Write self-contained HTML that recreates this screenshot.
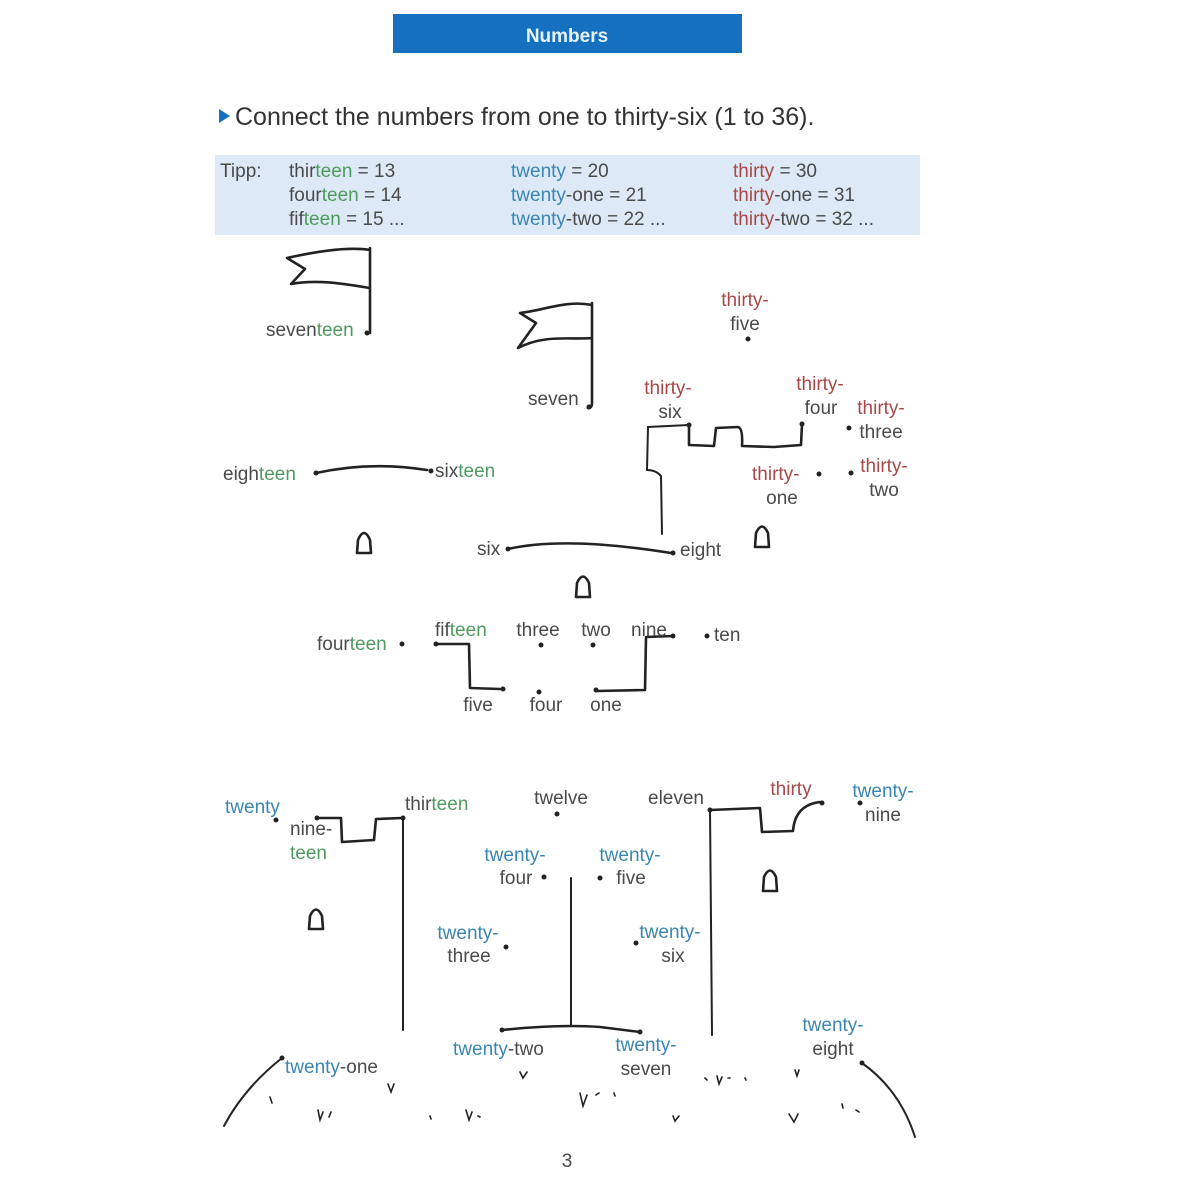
<!DOCTYPE html>
<html><head><meta charset="utf-8"><style>
html,body{margin:0;padding:0;background:#fff;}
svg{display:block;}
text{font-family:"Liberation Sans Narrow","Liberation Sans",sans-serif;font-size:19px;fill:#4a4a4a;}
.gr{fill:#4f9a60;} .b{fill:#3a86b0;} .r{fill:#a84848;}
.ln{fill:none;stroke:#222;stroke-width:2.6;stroke-linecap:round;stroke-linejoin:round;}
.th{fill:none;stroke:#222;stroke-width:2;stroke-linecap:round;}
</style></head><body>
<svg width="1200" height="1200" viewBox="0 0 1200 1200" xmlns="http://www.w3.org/2000/svg">
<rect x="393" y="14" width="349" height="39" fill="#1570c0"/>
<text x="567" y="42" text-anchor="middle" style="fill:#e8f2fb;font-size:19px;font-weight:bold;font-family:'Liberation Sans',sans-serif">Numbers</text>
<polygon points="219,109 219,123 230,116" fill="#1570c0"/>
<text x="235" y="125" style="font-size:25px;fill:#333;font-family:'Liberation Sans',sans-serif">Connect the numbers from one to thirty-six (1 to 36).</text>
<rect x="215" y="155" width="705" height="80" fill="#dde9f7"/>
<g style="font-size:19px">
<text x="220" y="177">Tipp:</text>
<text x="289" y="177">thir<tspan class="gr">teen</tspan> = 13</text>
<text x="289" y="201">four<tspan class="gr">teen</tspan> = 14</text>
<text x="289" y="225">fif<tspan class="gr">teen</tspan> = 15 ...</text>
<text x="511" y="177"><tspan class="b">twenty</tspan> = 20</text>
<text x="511" y="201"><tspan class="b">twenty</tspan>-one = 21</text>
<text x="511" y="225"><tspan class="b">twenty</tspan>-two = 22 ...</text>
<text x="733" y="177"><tspan class="r">thirty</tspan> = 30</text>
<text x="733" y="201"><tspan class="r">thirty</tspan>-one = 31</text>
<text x="733" y="225"><tspan class="r">thirty</tspan>-two = 32 ...</text>
</g>

<!-- flags -->
<path class="ln" d="M370,248 L370,333 M370,250 C345,246 305,254 287,258 L305,269 L291,284 C318,279 345,284 370,288"/>
<path class="ln" d="M592,303 L592,403 Q592,408 588,408 M592,305 C567,300 545,310 520,313 L536,323 L518,348 C545,334 570,340 592,338"/>

<!-- castle top right -->
<path class="ln" d="M689,425 L689,445 L714,446 L716,428 L738,427 Q743,428 742,446 L774,447 L801,445 L802,424"/>
<path class="th" d="M689,425 L648,427 L647,470 Q656,470 661,476 L662,534"/>
<path class="ln" d="M316,473 Q370,461 427,470"/>
<path class="ln" d="M508,549 Q565,536 671,553"/>
<path class="ln" d="M436,644 L469,644 L470,688 L500,689"/>
<path class="ln" d="M673,636 L646,637 L645,690 L597,691"/>

<!-- arches -->
<g class="ln">
<path d="M357,553 L358,540 Q364,526 370,540 L371,553 Z"/>
<path d="M576,597 L577,583 Q583,570 589,583 L590,597 Z"/>
<path d="M755,547 L756,533 Q762,520 768,533 L769,547 Z"/>
<path d="M763,891 L764,877 Q770,864 776,877 L777,891 Z"/>
<path d="M309,929 L310,916 Q316,903 322,916 L323,929 Z"/>
</g>

<!-- dots -->
<g fill="#222">
<circle cx="367" cy="333" r="2.5"/><circle cx="589" cy="407" r="2.5"/><circle cx="748" cy="339" r="2.5"/>
<circle cx="689" cy="425" r="2.5"/><circle cx="802" cy="424" r="2.5"/><circle cx="849" cy="428" r="2.5"/>
<circle cx="819" cy="474" r="2.5"/><circle cx="851" cy="473" r="2.5"/>
<circle cx="316" cy="473" r="2.5"/><circle cx="431" cy="471" r="2.5"/>
<circle cx="508" cy="549" r="2.5"/><circle cx="673" cy="553" r="2.5"/>
<circle cx="402" cy="644" r="2.5"/><circle cx="436" cy="644" r="2.5"/><circle cx="503" cy="689" r="2.5"/>
<circle cx="541" cy="645" r="2.5"/><circle cx="593" cy="645" r="2.5"/><circle cx="673" cy="636" r="2.5"/>
<circle cx="596" cy="690" r="2.5"/><circle cx="539" cy="692" r="2.5"/><circle cx="707" cy="636" r="2.5"/>
<circle cx="276" cy="820" r="2.5"/><circle cx="317" cy="818" r="2.5"/><circle cx="403" cy="818" r="2.5"/>
<circle cx="557" cy="814" r="2.5"/><circle cx="710" cy="810" r="2.5"/><circle cx="822" cy="803" r="2.5"/>
<circle cx="860" cy="803" r="2.5"/><circle cx="544" cy="877" r="2.5"/><circle cx="600" cy="878" r="2.5"/>
<circle cx="506" cy="947" r="2.5"/><circle cx="636" cy="943" r="2.5"/>
<circle cx="502" cy="1030" r="2.5"/><circle cx="640" cy="1032" r="2.5"/>
<circle cx="862" cy="1063" r="2.5"/><circle cx="282" cy="1058" r="2.5"/>
</g>

<!-- top labels -->
<text x="266" y="336">seven<tspan class="gr">teen</tspan></text>
<text x="528" y="405">seven</text>
<text x="745" y="306" text-anchor="middle" class="r">thirty-</text>
<text x="745" y="330" text-anchor="middle">five</text>
<text x="668" y="394" text-anchor="middle" class="r">thirty-</text>
<text x="670" y="418" text-anchor="middle">six</text>
<text x="820" y="390" text-anchor="middle" class="r">thirty-</text>
<text x="821" y="414" text-anchor="middle">four</text>
<text x="881" y="414" text-anchor="middle" class="r">thirty-</text>
<text x="881" y="438" text-anchor="middle">three</text>
<text x="752" y="480" class="r">thirty-</text>
<text x="782" y="504" text-anchor="middle">one</text>
<text x="884" y="472" text-anchor="middle" class="r">thirty-</text>
<text x="884" y="496" text-anchor="middle">two</text>
<text x="223" y="480">eigh<tspan class="gr">teen</tspan></text>
<text x="435" y="477">six<tspan class="gr">teen</tspan></text>
<text x="477" y="555">six</text>
<text x="680" y="556">eight</text>
<text x="317" y="650">four<tspan class="gr">teen</tspan></text>
<text x="435" y="636">fif<tspan class="gr">teen</tspan></text>
<text x="538" y="636" text-anchor="middle">three</text>
<text x="596" y="636" text-anchor="middle">two</text>
<text x="649" y="636" text-anchor="middle">nine</text>
<text x="714" y="641">ten</text>
<text x="478" y="711" text-anchor="middle">five</text>
<text x="546" y="711" text-anchor="middle">four</text>
<text x="606" y="711" text-anchor="middle">one</text>

<!-- bottom lines -->
<path class="ln" d="M317,818 L341,818 L342,842 L374,840 L376,819 L402,818"/>
<path class="th" d="M403,818 L403,1030"/>
<path class="ln" d="M710,810 L760,808 L762,832 L793,831 Q795,805 820,802"/>
<path class="th" d="M710,810 L712,1035"/>
<path class="th" d="M571,878 L571,1025"/>
<path class="ln" d="M502,1030 Q560,1024 600,1027 L640,1032"/>
<path class="th" d="M862,1063 Q900,1090 915,1137"/>
<path class="th" d="M282,1058 Q244,1088 224,1126"/>
<!-- grass -->
<g class="th" style="stroke-width:1.6">
<path d="M270,1097 l2,6 M318,1110 l2,10 l3,-8 M331,1112 l-2,5 M388,1084 l3,8 l3,-8 M430,1116 l1,3 M466,1110 l3,10 l3,-8 M478,1116 l2,1 M520,1072 l3,6 l4,-6 M580,1093 l3,13 l4,-11 M596,1095 l3,-2 M614,1093 l1,3 M673,1116 l2,5 l4,-5 M705,1078 l2,2 M717,1076 l2,8 l3,-7 M728,1078 l2,0 M745,1078 l1,2 M795,1070 l2,6 l2,-6 M789,1114 l5,8 l4,-8 M842,1104 l1,4 M856,1110 l3,2"/>
</g>

<!-- bottom labels -->
<text x="225" y="813" class="b">twenty</text>
<text x="290" y="835">nine-</text>
<text x="290" y="859" class="gr">teen</text>
<text x="405" y="810">thir<tspan class="gr">teen</tspan></text>
<text x="561" y="804" text-anchor="middle">twelve</text>
<text x="676" y="804" text-anchor="middle">eleven</text>
<text x="791" y="795" text-anchor="middle" class="r">thirty</text>
<text x="883" y="797" text-anchor="middle" class="b">twenty-</text>
<text x="865" y="821">nine</text>
<text x="515" y="861" text-anchor="middle" class="b">twenty-</text>
<text x="516" y="884" text-anchor="middle">four</text>
<text x="630" y="861" text-anchor="middle" class="b">twenty-</text>
<text x="631" y="884" text-anchor="middle">five</text>
<text x="468" y="939" text-anchor="middle" class="b">twenty-</text>
<text x="469" y="962" text-anchor="middle">three</text>
<text x="670" y="938" text-anchor="middle" class="b">twenty-</text>
<text x="673" y="962" text-anchor="middle">six</text>
<text x="453" y="1055"><tspan class="b">twenty</tspan>-two</text>
<text x="646" y="1051" text-anchor="middle" class="b">twenty-</text>
<text x="646" y="1075" text-anchor="middle">seven</text>
<text x="833" y="1031" text-anchor="middle" class="b">twenty-</text>
<text x="833" y="1055" text-anchor="middle">eight</text>
<text x="285" y="1073"><tspan class="b">twenty</tspan>-one</text>
<text x="567" y="1167" text-anchor="middle">3</text>
</svg>
</body></html>
